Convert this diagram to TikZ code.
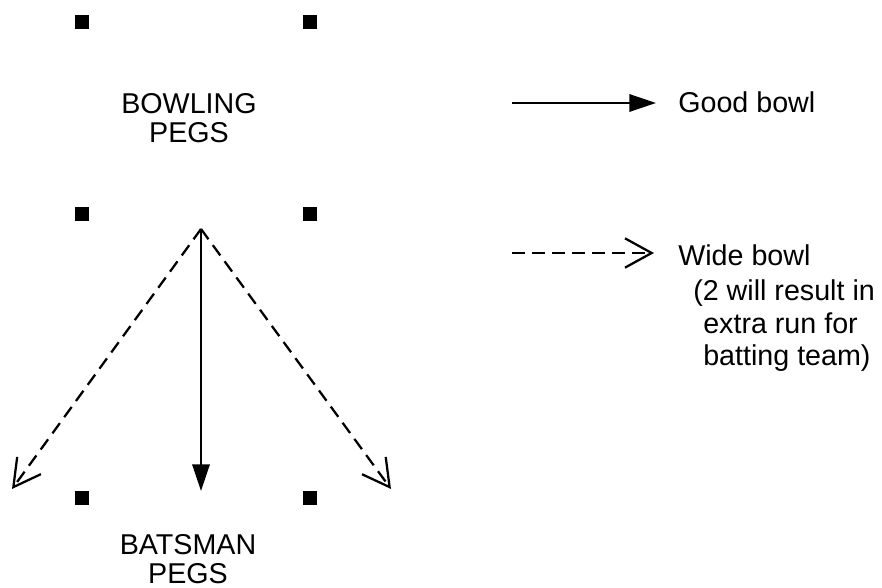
\documentclass[tikz,border=0pt]{standalone}
\usepackage{fontspec}
\setmainfont{Liberation Sans}
\usetikzlibrary{arrows.meta}
\begin{document}
\begin{tikzpicture}[x=0.75pt,y=-0.75pt,
  peg/.style={fill=black,inner sep=0pt,minimum size=10pt,draw=none},
  lbl/.style={font=\fontsize{21.5}{24}\selectfont,inner sep=0pt,anchor=base},
  txt/.style={font=\fontsize{21.5}{24}\selectfont,inner sep=0pt,anchor=base west},
  good/.style={line width=1.7pt,-{Triangle[length=20pt,width=13pt]}},
  wide/.style={line width=1.7pt,dash pattern=on 9.5pt off 5.5pt,-{Straight Barb[length=20pt,width=22pt,line width=1.7pt]}}]
\useasboundingbox (0,0) rectangle (882,588);
% pegs
\node[peg] (p1) at (82,22) {};
\node[peg] (p2) at (310,22) {};
\node[peg] (p3) at (82,214) {};
\node[peg] (p4) at (310,214) {};
\node[peg] (p5) at (82,498) {};
\node[peg] (p6) at (310,498) {};
% labels
\node[lbl] (bowl1) at (189,114) {BOWLING};
\node[lbl] (bowl2) at (189,143) {PEGS};
\node[lbl] (bats1) at (188,554) {BATSMAN};
\node[lbl] (bats2) at (188,583) {PEGS};
% delivery
\coordinate (apex) at (201,229);
\coordinate (down) at (201,491);
\coordinate (left) at (12,489);
\coordinate (right) at (391,489);
\draw[good] (apex) -- (down);
\draw[wide] (apex) -- (left);
\draw[wide] (apex) -- (right);
% legend
\coordinate (g1) at (512,103);
\coordinate (g2) at (656,103);
\draw[good] (g1) -- (g2);
\node[txt] (goodt) at (678,113) {Good bowl};
\coordinate (w1) at (512,253);
\coordinate (w2) at (654,253);
\draw[wide] (w1) -- (w2);
\node[txt] (widet) at (678,265) {Wide bowl};
\node[txt] (l2) at (693,300) {(2 will result in};
\node[txt] (l3) at (703,333) {extra run for};
\node[txt] (l4) at (703,365) {batting team)};
\end{tikzpicture}
\end{document}
